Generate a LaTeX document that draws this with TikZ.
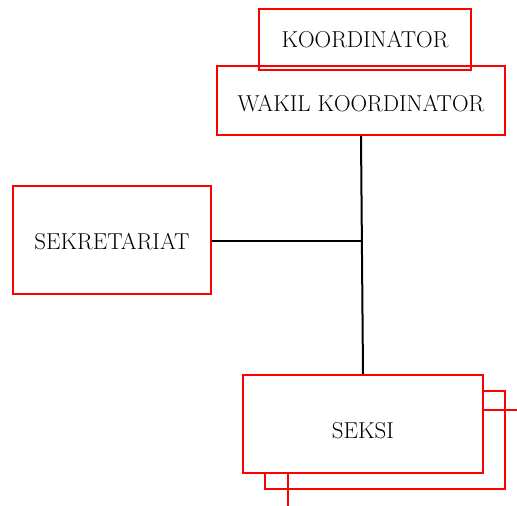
\documentclass[tikz,border=0pt]{standalone}
\begin{document}
\begin{tikzpicture}[x=1pt,y=-1pt,
  box/.style={draw=red,line width=2pt,rectangle,inner sep=0pt,text depth=0pt,text height=15.7pt,font=\fontsize{23}{27}\selectfont},
  conn/.style={draw=black,line width=2pt}]
\useasboundingbox (0,0) rectangle (517,506);
\node[box,minimum width=212,minimum height=61] (koor) at (365,39.5) {KOORDINATOR};
\node[box,minimum width=288,minimum height=69,text height=22.7pt] (wakil) at (361,100.5) {WAKIL KOORDINATOR};
\node[box,minimum width=198,minimum height=108,text height=18.7pt] (sek) at (112,240) {SEKRETARIAT};
\node[box,minimum width=240,minimum height=98] (seksib) at (385,440) {};
\node[box,fill=white,minimum width=240,minimum height=98,text height=29.7pt] (seksi) at (363,424) {SEKSI};
\coordinate (junc) at (362,241);
\coordinate (rightend) at (517,410);
\coordinate (botend) at (288,506);
\draw[conn] (wakil.south) -- (seksi.north);
\draw[conn] (sek.east |- junc) -- (junc);
\draw[draw=red,line width=2pt] (seksi.east |- rightend) -- (rightend);
\draw[draw=red,line width=2pt] (seksi.south -| botend) -- (botend);
\end{tikzpicture}
\end{document}
